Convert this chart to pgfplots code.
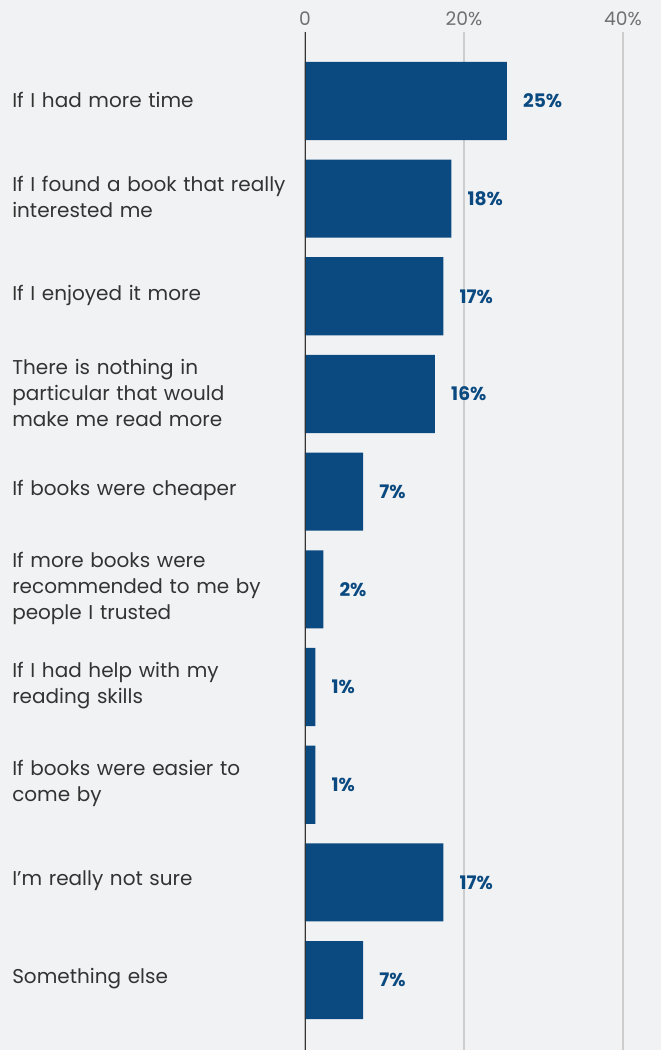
\documentclass[border=0pt]{standalone}
\usepackage{pgfplots}
\pgfplotsset{compat=1.18}
\usepackage{pgfplotstable}
\usepackage{fontspec}
\setmainfont{Poppins}
\definecolor{bg}{HTML}{F1F2F4}
\definecolor{barblue}{HTML}{0A4A80}
\definecolor{labtext}{HTML}{333333}
\definecolor{ticktext}{HTML}{707070}
\definecolor{gridc}{HTML}{CDCDCD}
\pgfplotstableread{
y x lab
0 25.4 25
1 18.4 18
2 17.4 17
3 16.35 16
4 7.3 7
5 2.3 2
6 1.3 1
7 1.3 1
8 17.4 17
9 7.3 7
}\datatable
\begin{document}
\begin{tikzpicture}
\fill[bg] (-228.75pt,0) rectangle (267pt,787.5pt);
\begin{axis}[
 at={(0,0)}, anchor=south west,
 scale only axis, width=267pt, height=763.5pt,
 xmin=0, xmax=44.78,
 ymin=-0.706, ymax=9.716, y dir=reverse,
 axis line style={draw=none},
 xtick={0,20,40}, xticklabels={0,20\%,40\%},
 xticklabel pos=right,
 xmajorgrids, grid style={gridc, line width=1.1pt},
 major tick length=0pt,
 xticklabel style={font=\fontsize{14}{16}\selectfont, text=ticktext, anchor=south, inner sep=0pt, yshift=4.5pt},
 ytick={0,...,9},
 yticklabels={
  {If I had more time},
  {If I found a book that really\\interested me},
  {If I enjoyed it more},
  {There is nothing in\\particular that would\\make me read more},
  {If books were cheaper},
  {If more books were\\recommended to me by\\people I trusted},
  {If I had help with my\\reading skills},
  {If books were easier to\\come by},
  {I'm really not sure},
  {Something else}},
 yticklabel style={anchor=west, xshift=-219.75pt, yshift=1pt, text width=220pt, align=left, inner sep=0pt, font=\fontsize{15}{19.5}\selectfont, text=labtext},
]
\addplot[xbar, bar width=0.8, bar shift=0pt, fill=barblue, draw=none,
 point meta=explicit,
 nodes near coords={\pgfmathprintnumber[assume math mode=true]{\pgfplotspointmeta}\%},
 nodes near coords style={font=\fontsize{14}{16}\selectfont\bfseries, text=barblue, anchor=west, inner sep=0pt, xshift=12pt}]
 table[x=x, y=y, meta=lab] {\datatable};
\draw[black!80, line width=1.5pt] (axis cs:0,-0.706) -- (axis cs:0,9.716);
\end{axis}
\pgfresetboundingbox
\path[use as bounding box] (-228.75pt,0) rectangle (267pt,787.5pt);
\end{tikzpicture}
\end{document}
